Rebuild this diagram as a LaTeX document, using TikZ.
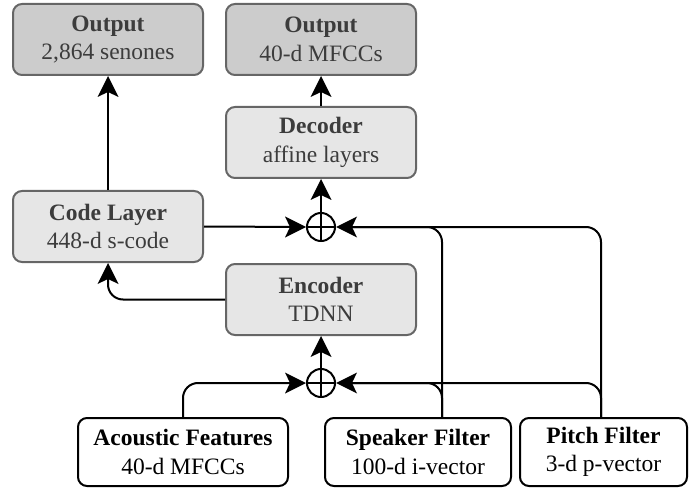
\documentclass[tikz,border=0pt]{standalone}
\usepackage{fontspec}
\setmainfont{Liberation Serif}
\definecolor{outfill}{HTML}{CCCCCC}
\definecolor{midfill}{HTML}{E6E6E6}
\definecolor{bord}{HTML}{666666}
\definecolor{txt}{HTML}{3C3C3C}
\begin{document}
\begin{tikzpicture}[x=1pt,y=1pt,
  base/.style={rounded corners=9pt, line width=2pt, align=center, inner sep=0pt, font=\fontsize{23.5}{28.5}\selectfont},
  outbox/.style={base, draw=bord, fill=outfill, text=txt},
  midbox/.style={base, draw=bord, fill=midfill, text=txt},
  inbox/.style={base, draw=black, fill=white, text=black},
  wide/.style={minimum width=190pt, minimum height=71pt},
  conn/.style={line width=2pt, shorten >=14pt},
  roundbend/.style={rounded corners=15pt},
  tipup/.pic={\fill[black] (0,0) -- (-10.5,-21) -- (0,-16) -- (10.5,-21) -- cycle;},
  sum/.style={circle, draw, line width=2pt, minimum size=28pt, inner sep=0pt}]
\useasboundingbox (0,0) rectangle (694,491);
% gray boxes
\node[outbox, wide] (out1) at (108,451.5) {\textbf{Output}\\2,864 senones};
\node[outbox, wide] (out2) at (321,451.5) {\textbf{Output}\\40-d MFCCs};
\node[midbox, wide] (dec) at (321,348.5) {\textbf{Decoder}\\affine layers};
\node[midbox, wide] (code) at (108,264.5) {\textbf{Code Layer}\\448-d s-code};
\node[midbox, wide] (enc) at (321,191.5) {\textbf{Encoder}\\TDNN};
% inputs
\node[inbox, minimum width=210pt, minimum height=68pt] (ac) at (183,39) {\textbf{Acoustic Features}\\40-d MFCCs};
\node[inbox, minimum width=186pt, minimum height=68pt] (spk) at (418,39) {\textbf{Speaker Filter}\\100-d i-vector};
\node[inbox, minimum width=167pt, minimum height=68pt] (pit) at (603.5,39) {\textbf{Pitch Filter}\\3-d p-vector};
% summation nodes
\node[sum] (s1) at (321,264) {};
\node[sum] (s2) at (321,108) {};
\draw[line width=2pt] (s1.north) -- (s1.south) (s1.west) -- (s1.east);
\draw[line width=2pt] (s2.north) -- (s2.south) (s2.west) -- (s2.east);
\coordinate (sx) at (442,0);
\coordinate (px) at (601,0);
% connectors
\draw[conn, roundbend] (ac.north) |- (s2.west);
\draw[conn, roundbend] (spk.north -| sx) |- (s2.east);
\draw[conn, roundbend] (pit.north -| px) |- (s2.east);
\draw[conn, roundbend] (spk.north -| sx) |- (s1.east);
\draw[conn, roundbend] (pit.north -| px) |- (s1.east);
\draw[conn] (s2.north) -- (enc.south);
\draw[conn, roundbend] (enc.west) -| (code.south);
\draw[conn] (code.east) -- (s1.west);
\draw[conn] (s1.north) -- (dec.south);
\draw[conn] (dec.north) -- (out2.south);
\draw[conn] (code.north) -- (out1.south);
% arrowheads
\pic[rotate=-90] at (s2.west) {tipup};
\pic[rotate=90] at (s2.east) {tipup};
\pic[rotate=-90] at (s1.west) {tipup};
\pic[rotate=90] at (s1.east) {tipup};
\pic at (enc.south) {tipup};
\pic at (code.south) {tipup};
\pic at (dec.south) {tipup};
\pic at (out2.south) {tipup};
\pic at (out1.south) {tipup};
\end{tikzpicture}
\end{document}
